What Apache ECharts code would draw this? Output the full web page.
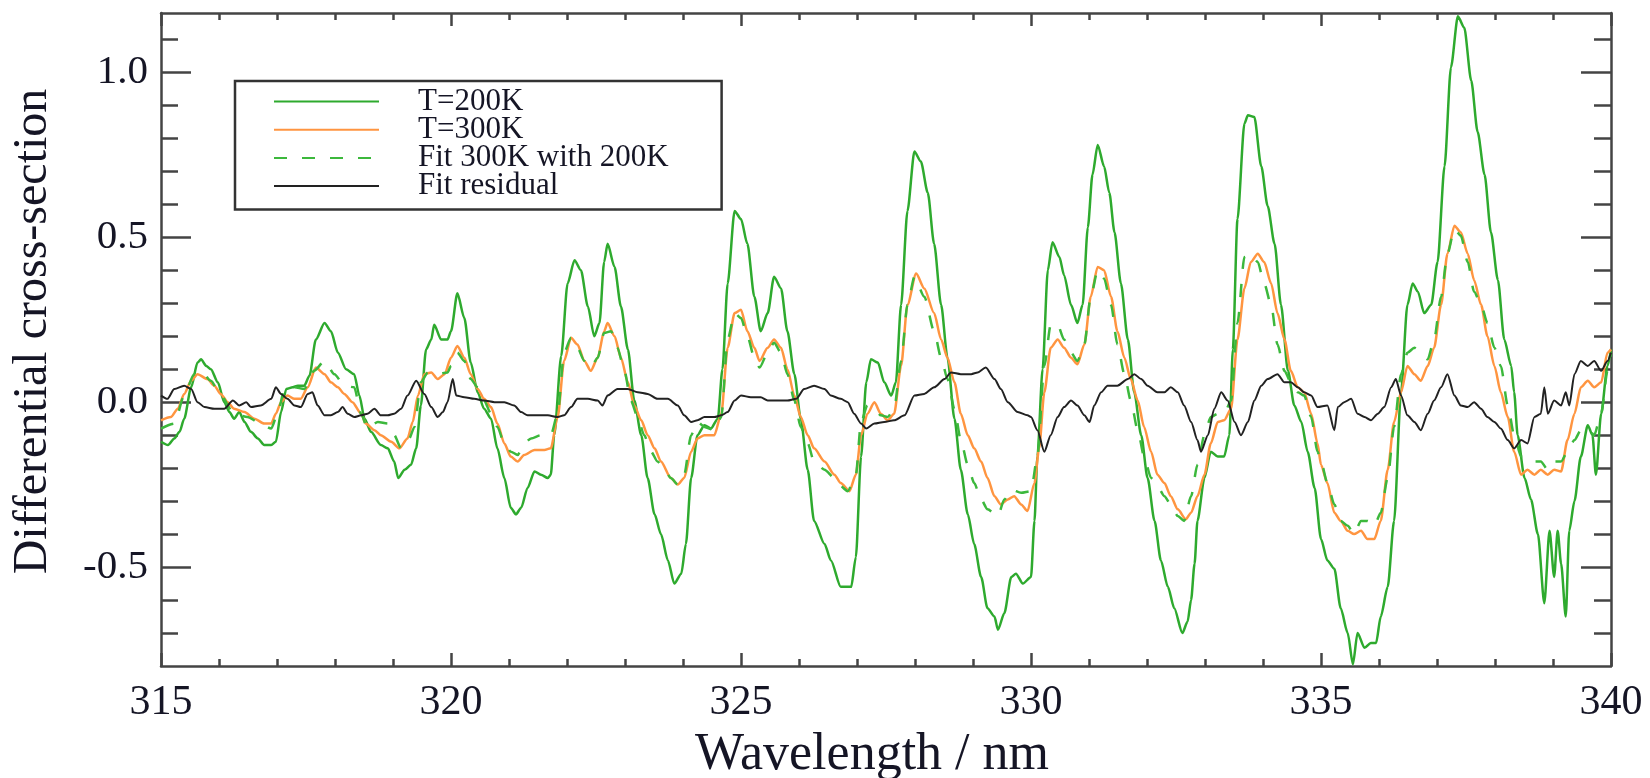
<!DOCTYPE html>
<html>
<head>
<meta charset="utf-8">
<script src="https://cdn.jsdelivr.net/npm/echarts@6/dist/echarts.min.js"></script>
<style>
html,body{margin:0;padding:0;background:#fff;}
#chart{width:1650px;height:778px;}
</style>
</head>
<body>
<div id="chart"></div>
<script>
// ---- data (wavelength nm, differential cross-section) ----
const seriesNames = ['T=200K', 'T=300K', 'Fit 300K with 200K', 'Fit residual'];

const t200 = [
[315.00,-0.12],[315.12,-0.13],[315.23,-0.11],[315.32,-0.09],[315.40,-0.05],[315.52,0.045],[315.63,0.12],[315.69,0.13],[315.78,0.11],[315.86,0.10],[315.98,0.06],[316.09,0.00],[316.18,-0.03],[316.26,-0.05],[316.35,-0.03],[316.44,-0.06],[316.55,-0.09],[316.67,-0.11],[316.78,-0.13],[316.90,-0.13],[316.98,-0.12],[317.07,-0.03],[317.16,0.04],[317.27,0.045],[317.36,0.05],[317.47,0.05],[317.56,0.08],[317.67,0.19],[317.82,0.24],[317.93,0.215],[318.05,0.15],[318.19,0.10],[318.33,0.085],[318.42,0.02],[318.51,-0.05],[318.62,-0.09],[318.79,-0.13],[318.91,-0.14],[319.02,-0.18],[319.09,-0.23],[319.20,-0.205],[319.31,-0.19],[319.40,-0.14],[319.48,-0.01],[319.57,0.16],[319.66,0.19],[319.71,0.235],[319.83,0.19],[319.94,0.19],
[320.00,0.215],[320.11,0.33],[320.23,0.255],[320.34,0.12],[320.46,0.03],[320.57,-0.02],[320.69,-0.05],[320.80,-0.14],[320.92,-0.23],[321.03,-0.32],[321.12,-0.34],[321.21,-0.32],[321.32,-0.26],[321.44,-0.21],[321.55,-0.22],[321.67,-0.23],[321.72,-0.22],[321.78,-0.10],[321.90,0.14],[322.01,0.36],[322.13,0.43],[322.24,0.40],[322.36,0.29],[322.47,0.20],[322.56,0.24],[322.64,0.425],[322.70,0.48],[322.82,0.41],[322.93,0.29],[323.05,0.16],[323.16,0.005],[323.28,-0.10],[323.39,-0.23],[323.51,-0.34],[323.62,-0.40],[323.74,-0.48],[323.85,-0.55],[323.97,-0.52],[324.05,-0.43],[324.14,-0.23],[324.25,-0.10],[324.37,-0.07],[324.48,-0.08],[324.60,-0.05],[324.68,0.10],[324.77,0.36],[324.89,0.58],
[325.00,0.555],[325.11,0.48],[325.23,0.32],[325.34,0.215],[325.46,0.27],[325.57,0.38],[325.69,0.345],[325.80,0.215],[325.92,0.085],[326.03,-0.05],[326.15,-0.205],[326.26,-0.36],[326.44,-0.43],[326.55,-0.48],[326.72,-0.56],[326.90,-0.56],[326.98,-0.47],[327.07,-0.165],[327.16,0.06],[327.24,0.13],[327.36,0.12],[327.47,0.06],[327.59,0.02],[327.67,0.06],[327.76,0.295],[327.87,0.58],[327.99,0.76],[328.10,0.73],[328.22,0.635],[328.33,0.48],[328.45,0.295],[328.56,0.135],[328.68,-0.05],[328.79,-0.205],[328.91,-0.34],[329.02,-0.43],[329.14,-0.53],[329.25,-0.625],[329.37,-0.65],[329.43,-0.69],[329.54,-0.64],[329.66,-0.53],[329.74,-0.52],[329.86,-0.55],
[330.00,-0.53],[330.06,-0.36],[330.11,-0.165],[330.20,0.10],[330.29,0.40],[330.37,0.485],[330.49,0.44],[330.57,0.385],[330.69,0.295],[330.80,0.24],[330.89,0.295],[330.98,0.53],[331.06,0.69],[331.15,0.78],[331.26,0.715],[331.35,0.635],[331.44,0.515],[331.55,0.36],[331.67,0.19],[331.78,0.03],[331.90,-0.10],[332.01,-0.23],[332.13,-0.36],[332.24,-0.48],[332.36,-0.56],[332.47,-0.625],[332.61,-0.70],[332.70,-0.665],[332.76,-0.60],[332.82,-0.49],[332.87,-0.36],[332.99,-0.23],[333.10,-0.15],[333.22,-0.165],[333.33,-0.165],[333.42,-0.10],[333.48,0.16],[333.56,0.555],[333.68,0.845],[333.74,0.87],[333.85,0.865],[333.97,0.715],[334.08,0.595],[334.20,0.48],[334.31,0.295],[334.43,0.095],[334.54,-0.01],[334.66,-0.06],[334.77,-0.15],[334.89,-0.26],
[335.00,-0.415],[335.11,-0.48],[335.23,-0.505],[335.34,-0.625],[335.46,-0.70],[335.55,-0.795],[335.63,-0.70],[335.75,-0.745],[335.86,-0.73],[335.95,-0.73],[336.03,-0.65],[336.15,-0.56],[336.26,-0.36],[336.38,0.03],[336.49,0.295],[336.58,0.36],[336.67,0.335],[336.78,0.27],[336.90,0.295],[337.01,0.425],[337.13,0.715],[337.24,1.015],[337.36,1.17],[337.47,1.135],[337.59,0.975],[337.70,0.82],[337.82,0.69],[337.93,0.515],[338.05,0.37],[338.16,0.19],[338.28,0.11],[338.33,0.03],[338.39,-0.10],[338.51,-0.23],[338.62,-0.295],[338.74,-0.40],[338.85,-0.61],[338.94,-0.39],[339.02,-0.53],[339.08,-0.39],[339.14,-0.49],[339.22,-0.65],[339.28,-0.39],[339.37,-0.30],[339.48,-0.165],[339.60,-0.07],[339.68,-0.10],[339.74,-0.22],[339.83,-0.035],[339.94,0.11],[340.00,0.16]
];

const t300 = [
[315.00,-0.055],[315.17,-0.045],[315.29,-0.02],[315.40,0.025],[315.52,0.065],[315.63,0.085],[315.80,0.07],[315.92,0.05],[316.03,0.025],[316.15,0.00],[316.26,-0.02],[316.44,-0.03],[316.61,-0.05],[316.78,-0.065],[316.90,-0.065],[316.98,-0.035],[317.07,0.00],[317.18,0.02],[317.30,0.01],[317.41,0.01],[317.53,0.045],[317.67,0.105],[317.82,0.085],[317.93,0.06],[318.05,0.045],[318.16,0.025],[318.30,0.00],[318.45,-0.035],[318.53,-0.065],[318.68,-0.085],[318.79,-0.10],[318.97,-0.12],[319.11,-0.14],[319.25,-0.11],[319.34,-0.06],[319.43,0.02],[319.54,0.085],[319.66,0.09],[319.77,0.07],[319.89,0.085],[320.00,0.135],
[320.11,0.17],[320.23,0.135],[320.34,0.085],[320.46,0.04],[320.57,0.01],[320.69,-0.015],[320.80,-0.065],[320.92,-0.125],[321.03,-0.165],[321.15,-0.18],[321.26,-0.16],[321.44,-0.145],[321.61,-0.145],[321.72,-0.14],[321.84,-0.045],[321.95,0.125],[322.07,0.195],[322.18,0.175],[322.30,0.125],[322.41,0.095],[322.53,0.135],[322.64,0.215],[322.70,0.24],[322.82,0.20],[322.93,0.135],[323.05,0.06],[323.16,-0.01],[323.28,-0.055],[323.39,-0.10],[323.51,-0.14],[323.62,-0.18],[323.79,-0.23],[323.91,-0.25],[324.02,-0.23],[324.14,-0.15],[324.25,-0.11],[324.37,-0.10],[324.54,-0.10],[324.66,-0.035],[324.77,0.165],[324.89,0.27],
[325.00,0.28],[325.11,0.215],[325.23,0.165],[325.32,0.125],[325.46,0.165],[325.57,0.19],[325.69,0.165],[325.80,0.10],[325.92,0.02],[326.03,-0.045],[326.15,-0.10],[326.26,-0.14],[326.44,-0.18],[326.61,-0.22],[326.72,-0.245],[326.87,-0.27],[326.98,-0.22],[327.07,-0.10],[327.18,-0.035],[327.30,0.00],[327.41,-0.035],[327.53,-0.055],[327.64,-0.035],[327.76,0.11],[327.87,0.295],[328.02,0.39],[328.16,0.345],[328.33,0.27],[328.45,0.19],[328.56,0.135],[328.68,0.06],[328.79,-0.035],[328.91,-0.10],[329.02,-0.14],[329.14,-0.18],[329.25,-0.23],[329.37,-0.285],[329.48,-0.31],[329.60,-0.295],[329.71,-0.285],[329.83,-0.31],[329.94,-0.33],
[330.06,-0.245],[330.14,-0.14],[330.23,0.03],[330.34,0.165],[330.46,0.19],[330.57,0.165],[330.69,0.135],[330.80,0.115],[330.92,0.175],[331.03,0.32],[331.15,0.41],[331.26,0.40],[331.38,0.32],[331.49,0.215],[331.61,0.135],[331.72,0.07],[331.84,0.005],[331.95,-0.075],[332.07,-0.15],[332.18,-0.22],[332.30,-0.245],[332.41,-0.285],[332.53,-0.325],[332.67,-0.355],[332.76,-0.335],[332.87,-0.285],[332.99,-0.22],[333.10,-0.125],[333.22,-0.06],[333.33,-0.055],[333.45,-0.02],[333.56,0.19],[333.68,0.345],[333.79,0.425],[333.91,0.45],[334.02,0.425],[334.14,0.36],[334.25,0.27],[334.37,0.19],[334.48,0.095],[334.60,0.045],[334.71,0.03],[334.83,-0.035],[334.94,-0.125],
[335.00,-0.19],[335.11,-0.245],[335.23,-0.335],[335.34,-0.36],[335.46,-0.39],[335.57,-0.40],[335.69,-0.39],[335.80,-0.415],[335.92,-0.415],[336.03,-0.36],[336.15,-0.205],[336.26,-0.06],[336.38,0.03],[336.49,0.11],[336.61,0.085],[336.72,0.065],[336.84,0.11],[336.95,0.165],[337.07,0.295],[337.18,0.45],[337.30,0.535],[337.41,0.515],[337.53,0.45],[337.64,0.37],[337.76,0.295],[337.87,0.20],[337.99,0.11],[338.10,0.03],[338.22,-0.045],[338.33,-0.15],[338.45,-0.22],[338.56,-0.205],[338.68,-0.22],[338.79,-0.205],[338.91,-0.22],[339.02,-0.205],[339.14,-0.21],[339.25,-0.115],[339.37,-0.035],[339.48,0.045],[339.60,0.065],[339.71,0.045],[339.83,0.06],[339.94,0.15],[340.00,0.16]
];

const fit300 = [
[315.00,-0.08],[315.23,-0.065],[315.40,0.02],[315.57,0.085],[315.69,0.095],[315.86,0.065],[316.03,0.02],[316.26,-0.035],[316.49,-0.045],[316.72,-0.065],[316.90,-0.08],[317.01,-0.035],[317.13,0.04],[317.30,0.045],[317.47,0.04],[317.64,0.095],[317.82,0.125],[317.99,0.085],[318.16,0.05],[318.33,0.045],[318.45,-0.035],[318.56,-0.08],[318.74,-0.06],[318.91,-0.065],[319.02,-0.10],[319.14,-0.14],[319.28,-0.11],[319.37,-0.075],[319.48,0.06],[319.60,0.09],[319.77,0.085],[319.94,0.09],
[320.00,0.11],[320.11,0.15],[320.23,0.125],[320.34,0.07],[320.46,0.045],[320.57,0.005],[320.69,-0.035],[320.80,-0.075],[320.92,-0.125],[321.03,-0.15],[321.15,-0.16],[321.26,-0.125],[321.38,-0.11],[321.55,-0.10],[321.72,-0.10],[321.84,-0.035],[321.95,0.15],[322.07,0.195],[322.18,0.165],[322.30,0.125],[322.41,0.105],[322.53,0.135],[322.64,0.21],[322.76,0.215],[322.87,0.165],[322.99,0.095],[323.10,0.005],[323.22,-0.045],[323.33,-0.10],[323.45,-0.15],[323.56,-0.18],[323.68,-0.205],[323.79,-0.23],[323.91,-0.25],[324.02,-0.22],[324.14,-0.10],[324.25,-0.06],[324.37,-0.075],[324.54,-0.085],[324.66,-0.045],[324.77,0.19],[324.89,0.27],
[325.00,0.255],[325.11,0.20],[325.23,0.135],[325.32,0.105],[325.46,0.15],[325.57,0.18],[325.69,0.15],[325.80,0.085],[325.92,0.005],[326.03,-0.075],[326.15,-0.125],[326.26,-0.18],[326.44,-0.205],[326.61,-0.23],[326.72,-0.255],[326.84,-0.27],[326.98,-0.22],[327.07,-0.06],[327.18,-0.01],[327.30,-0.02],[327.41,-0.04],[327.53,-0.045],[327.64,-0.02],[327.76,0.125],[327.87,0.295],[327.99,0.38],[328.16,0.32],[328.33,0.215],[328.45,0.135],[328.56,0.07],[328.68,-0.02],[328.79,-0.115],[328.91,-0.19],[329.02,-0.245],[329.14,-0.295],[329.25,-0.325],[329.43,-0.345],[329.54,-0.295],[329.66,-0.265],[329.83,-0.275],[330.00,-0.27],
[330.11,-0.165],[330.23,0.11],[330.34,0.235],[330.46,0.235],[330.57,0.19],[330.69,0.15],[330.80,0.125],[330.92,0.175],[331.03,0.32],[331.15,0.40],[331.26,0.375],[331.38,0.295],[331.49,0.175],[331.61,0.085],[331.72,0.005],[331.84,-0.085],[331.95,-0.165],[332.07,-0.23],[332.18,-0.255],[332.30,-0.285],[332.41,-0.31],[332.53,-0.345],[332.64,-0.36],[332.76,-0.285],[332.87,-0.19],[332.99,-0.10],[333.10,-0.045],[333.22,-0.035],[333.33,-0.035],[333.45,0.005],[333.56,0.24],[333.68,0.44],[333.79,0.45],[333.91,0.425],[334.02,0.36],[334.14,0.295],[334.25,0.175],[334.37,0.095],[334.48,0.06],[334.60,0.03],[334.71,0.02],[334.83,-0.045],[334.94,-0.15],
[335.00,-0.18],[335.11,-0.245],[335.23,-0.31],[335.34,-0.36],[335.46,-0.375],[335.57,-0.40],[335.69,-0.36],[335.80,-0.36],[335.92,-0.375],[336.03,-0.335],[336.15,-0.23],[336.26,-0.075],[336.38,0.085],[336.49,0.15],[336.61,0.165],[336.72,0.15],[336.84,0.13],[336.95,0.19],[337.07,0.32],[337.18,0.45],[337.30,0.525],[337.41,0.505],[337.53,0.425],[337.64,0.335],[337.76,0.295],[337.87,0.24],[337.99,0.165],[338.10,0.11],[338.22,-0.01],[338.33,-0.10],[338.45,-0.165],[338.56,-0.165],[338.68,-0.18],[338.79,-0.18],[338.91,-0.205],[339.02,-0.18],[339.14,-0.18],[339.25,-0.15],[339.37,-0.115],[339.48,-0.085],[339.60,-0.08],[339.71,-0.10],[339.83,-0.035],[339.94,0.095],[340.00,0.15]
];

const residual = [
[315.00,0.02],[315.11,0.01],[315.23,0.04],[315.40,0.05],[315.52,0.04],[315.63,0.00],[315.75,-0.015],[315.92,-0.02],[316.09,-0.02],[316.24,0.005],[316.35,-0.01],[316.47,0.00],[316.55,-0.015],[316.72,-0.01],[316.90,0.01],[316.98,0.045],[317.07,0.025],[317.18,0.01],[317.30,-0.01],[317.41,-0.015],[317.53,0.025],[317.61,0.03],[317.70,-0.01],[317.82,-0.04],[317.93,-0.04],[318.05,-0.03],[318.13,-0.015],[318.22,-0.035],[318.33,-0.045],[318.45,-0.04],[318.56,-0.035],[318.68,-0.02],[318.79,-0.04],[318.91,-0.04],[319.02,-0.035],[319.14,-0.02],[319.25,0.02],[319.40,0.065],[319.54,0.025],[319.66,-0.015],[319.77,-0.045],[319.86,-0.03],[319.94,0.00],[320.03,0.07],
[320.09,0.02],[320.23,0.015],[320.40,0.01],[320.57,0.005],[320.75,0.00],[320.92,0.00],[321.09,-0.01],[321.21,-0.03],[321.32,-0.04],[321.49,-0.04],[321.67,-0.04],[321.84,-0.045],[321.95,-0.04],[322.07,-0.015],[322.18,0.01],[322.36,0.01],[322.53,0.005],[322.61,-0.01],[322.70,0.02],[322.87,0.04],[323.05,0.04],[323.22,0.03],[323.39,0.025],[323.56,0.01],[323.74,0.01],[323.91,-0.01],[324.02,-0.04],[324.14,-0.06],[324.25,-0.055],[324.37,-0.045],[324.54,-0.045],[324.66,-0.04],[324.77,-0.03],[324.89,0.005],[325.00,0.02],
[325.17,0.015],[325.34,0.015],[325.46,0.005],[325.63,0.005],[325.80,0.005],[325.95,0.01],[326.09,0.04],[326.26,0.05],[326.44,0.04],[326.55,0.02],[326.72,0.01],[326.84,0.00],[326.95,-0.035],[327.07,-0.065],[327.16,-0.08],[327.30,-0.065],[327.47,-0.06],[327.64,-0.055],[327.82,-0.04],[327.99,0.02],[328.16,0.025],[328.33,0.045],[328.51,0.07],[328.62,0.09],[328.79,0.085],[328.97,0.085],[329.08,0.09],[329.22,0.105],[329.37,0.07],[329.48,0.04],[329.60,0.00],[329.77,-0.03],[329.94,-0.04],
[330.00,-0.045],[330.11,-0.085],[330.23,-0.15],[330.34,-0.10],[330.46,-0.045],[330.57,-0.015],[330.69,0.005],[330.80,-0.01],[330.92,-0.04],[331.01,-0.06],[331.09,-0.01],[331.21,0.03],[331.32,0.05],[331.49,0.05],[331.67,0.07],[331.78,0.085],[331.90,0.07],[332.01,0.05],[332.18,0.03],[332.30,0.03],[332.41,0.045],[332.53,0.03],[332.64,-0.01],[332.76,-0.06],[332.87,-0.115],[332.93,-0.15],[333.05,-0.10],[333.16,-0.02],[333.28,0.03],[333.39,0.005],[333.51,-0.06],[333.62,-0.10],[333.74,-0.06],[333.85,0.005],[333.97,0.05],[334.08,0.07],[334.25,0.085],[334.37,0.06],[334.48,0.06],[334.60,0.045],[334.71,0.03],[334.83,0.02],[334.94,-0.015],
[335.11,-0.01],[335.23,-0.085],[335.29,-0.015],[335.40,0.00],[335.52,0.01],[335.63,-0.035],[335.75,-0.045],[335.86,-0.055],[335.98,-0.035],[336.09,-0.015],[336.21,0.045],[336.29,0.07],[336.38,0.02],[336.49,-0.04],[336.61,-0.06],[336.72,-0.085],[336.84,-0.035],[336.95,0.005],[337.07,0.045],[337.18,0.085],[337.30,0.02],[337.41,-0.01],[337.53,-0.015],[337.64,0.00],[337.76,-0.02],[337.87,-0.045],[337.99,-0.06],[338.10,-0.08],[338.22,-0.115],[338.33,-0.14],[338.45,-0.115],[338.56,-0.125],[338.68,-0.045],[338.79,-0.035],[338.85,0.045],[338.91,-0.035],[339.02,0.005],[339.14,-0.01],[339.22,0.03],[339.28,-0.01],[339.37,0.085],[339.48,0.125],[339.60,0.11],[339.71,0.125],[339.83,0.095],[339.94,0.125],[340.00,0.15]
];

// axis settings
const xMin = 315, xMax = 340, xStep = 5;
const yMin = -0.8, yMax = 1.18;
const yMajorTicks = [-0.5, 0.0, 0.5, 1.0];
const yMinorTicks = [-0.7, -0.6, -0.4, -0.3, -0.2, -0.1, 0.1, 0.2, 0.3, 0.4, 0.6, 0.7, 0.8, 0.9, 1.1];

// ---- chart ----
const FONT = '"Liberation Serif", "DejaVu Serif", serif';
const AX = '#444';
const TXT = '#151525';
const chart = echarts.init(document.getElementById('chart'));

function yAxisDef(pos, major, showLabel, showLine) {
  return {
    type: 'value', min: yMin, max: yMax, position: pos, gridIndex: 0,
    axisLine: { show: showLine, lineStyle: { color: AX, width: 2.5 } },
    axisTick: { show: true, inside: true, length: major ? 30 : 17,
      customValues: major ? yMajorTicks : yMinorTicks,
      lineStyle: { color: AX, width: 2.5 } },
    axisLabel: { show: showLabel, customValues: yMajorTicks,
      formatter: v => v.toFixed(1), fontFamily: FONT, fontSize: 41, color: TXT, margin: 13 },
    splitLine: { show: false }, minorTick: { show: false },
    ...(pos === 'left' && major && showLabel ? {
      name: 'Differential cross-section', nameLocation: 'middle', nameGap: 104,
      nameTextStyle: { fontFamily: FONT, fontSize: 48, color: TXT, padding: [0, 0, 0, 16] }
    } : {})
  };
}

function xAxisDef(pos, showLabel) {
  return {
    type: 'value', min: xMin, max: xMax, interval: xStep, position: pos, gridIndex: 0,
    axisLine: { show: true, onZero: false, lineStyle: { color: AX, width: 2.5 } },
    axisTick: { show: true, inside: true, length: 13, lineStyle: { color: AX, width: 2.5 } },
    minorTick: { show: true, splitNumber: 5, length: 7, lineStyle: { color: AX, width: 2.5 } },
    axisLabel: { show: showLabel, fontFamily: FONT, fontSize: 42, color: TXT, margin: 16 },
    splitLine: { show: false },
    ...(showLabel ? {
      name: 'Wavelength / nm', nameLocation: 'middle', nameGap: 61,
      nameTextStyle: { fontFamily: FONT, fontSize: 52, color: TXT, padding: [0, 28, 0, 0] }
    } : {})
  };
}

const lineCommon = { type: 'line', showSymbol: false, symbol: 'none', smooth: 0.25, smoothMonotone: 'x', animation: false, z: 2 };

chart.setOption({
  backgroundColor: '#fff',
  animation: false,
  grid: { left: 161, right: 39, top: 13, bottom: 112, containLabel: false, outerBoundsMode: 'none' },
  legend: {
    data: seriesNames,
    orient: 'vertical', left: 235, top: 81,
    itemWidth: 105, itemHeight: 14, itemGap: -2.8,
    padding: [5, 53, 8, 38],
    borderColor: '#333', borderWidth: 2.5, backgroundColor: '#fff',
    itemStyle: { opacity: 0 },
    textStyle: { fontFamily: FONT, fontSize: 31, lineHeight: 27.4, color: TXT, padding: [0, 0, 0, 34] },
    selectedMode: false
  },
  xAxis: [ xAxisDef('bottom', true), xAxisDef('top', false) ],
  yAxis: [
    yAxisDef('left', true, true, true),
    yAxisDef('left', false, false, false),
    yAxisDef('right', true, false, true),
    yAxisDef('right', false, false, false)
  ],
  series: [
    Object.assign({}, lineCommon, { name: seriesNames[0], data: t200, lineStyle: { color: '#2eaa2e', width: 2.5 }, itemStyle: { color: '#2eaa2e' } }),
    Object.assign({}, lineCommon, { name: seriesNames[1], data: t300, lineStyle: { color: '#ff9540', width: 2.5 }, itemStyle: { color: '#ff9540' } }),
    Object.assign({}, lineCommon, { name: seriesNames[2], data: fit300, lineStyle: { color: '#3cb83c', width: 2.5, type: [13, 15] }, itemStyle: { color: '#3cb83c' } }),
    Object.assign({}, lineCommon, { name: seriesNames[3], data: residual, lineStyle: { color: '#222', width: 2 }, itemStyle: { color: '#222' } })
  ]
});
</script>
</body>
</html>
